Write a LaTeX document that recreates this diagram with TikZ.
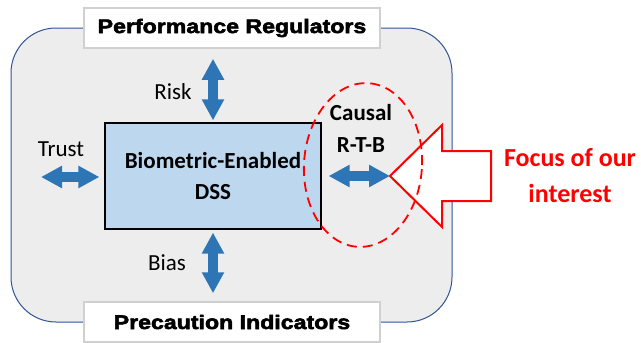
\documentclass[tikz,border=0pt]{standalone}
\usepackage{fontspec}
\setmainfont{Carlito}
\newfontfamily\heavyfont{Liberation Sans}[BoldFeatures={FakeBold=2.8}, FakeStretch=1.18]
\usetikzlibrary{arrows.meta,calc}
\definecolor{outerfill}{HTML}{EDEDED}
\definecolor{outerline}{HTML}{2F5597}
\definecolor{dssfill}{HTML}{BDD7EE}
\definecolor{arrowblue}{HTML}{2E75B6}
\definecolor{boxline}{HTML}{D0D0D0}
\definecolor{focusred}{HTML}{FF0000}
\tikzset{
  headerbox/.style={draw=boxline, line width=1.5pt, fill=white, minimum width=296pt, minimum height=40pt, inner sep=0pt,
    font=\heavyfont\bfseries\fontsize{19.6}{22}\selectfont},
  dssbox/.style={draw=black, line width=1.2pt, fill=dssfill, minimum width=216pt, minimum height=106pt, inner sep=0pt,
    align=center, font=\bfseries\fontsize{23}{31}\selectfont},
  lbl/.style={font=\fontsize{23}{28}\selectfont, inner sep=0pt},
  boldlbl/.style={font=\bfseries\fontsize{23}{32}\selectfont, inner sep=0pt, align=center},
  dblarrow/.style={draw=arrowblue, line width=10pt,
    {Triangle[width=21pt,length=21pt]}-{Triangle[width=21pt,length=21pt]}},
}
\begin{document}
\begin{tikzpicture}[x=1pt,y=-1pt]
\useasboundingbox (0,0) rectangle (641,343);
% outer rounded container
\draw[outerline, line width=1pt, fill=outerfill, rounded corners=45pt] (11,28) rectangle (452,322);
% header boxes
\node[headerbox] (top) at (232,28) {Performance Regulators};
\node[headerbox] (bot) at (232,322) {Precaution Indicators};
% central box
\node[dssbox] (dss) at (213,176) {Biometric-Enabled\\DSS};
% labels
\node[lbl] (risk) at (173,92) {Risk};
\node[lbl] (trust) at (61,149) {Trust};
\node[lbl] (bias) at (167,263) {Bias};
\node[boldlbl] (causal) at (361,128) {Causal\\R-T-B};
% focus arrow (shape)
\draw[focusred, line width=2pt, fill=white, line join=miter]
  (390,176) -- (442,125) -- (442,151) -- (491,151) -- (491,201) -- (442,201) -- (442,227) -- cycle;
\coordinate (focustip) at (390,176);
\node[font=\bfseries\fontsize{26}{36}\selectfont, text=focusred, align=center, inner sep=0pt] (focus) at (570,176) {Focus of our\\interest};
% dashed ellipse
\draw[focusred, line width=1.8pt, dash pattern=on 10pt off 6pt, rotate around={-4:(363,165)}]
  (363,165) ellipse [x radius=59, y radius=82];
% blue double arrows
\coordinate (riskend) at (top.south -| dss.north);
\coordinate (biasend) at (bot.north -| dss.south);
\coordinate (trustend) at (41,177);
\draw[dblarrow] ([yshift=-10pt]riskend) -- ([yshift=2pt]dss.north);
\draw[dblarrow] ([yshift=-3pt]dss.south) -- ([yshift=8pt]biasend);
\draw[dblarrow] (trustend) -- ([xshift=-5pt]dss.west |- trustend);
\draw[dblarrow] ([xshift=7pt]dss.east |- focustip) -- (focustip);
\end{tikzpicture}
\end{document}
